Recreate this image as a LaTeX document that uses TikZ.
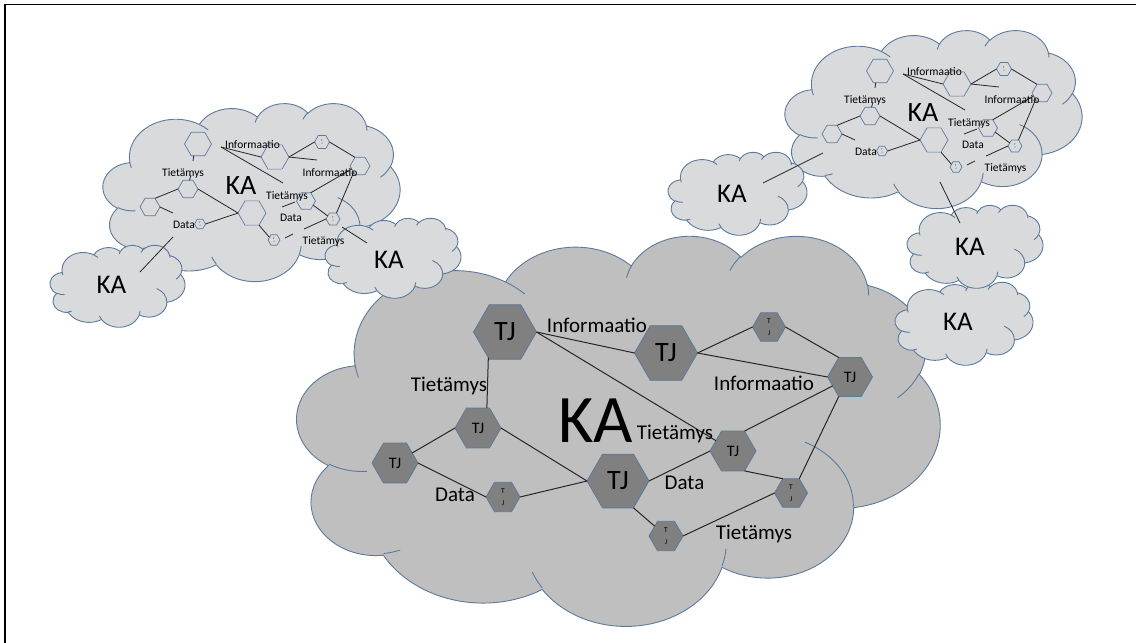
\documentclass[tikz,border=0pt]{standalone}
\usepackage{fontspec}
\setmainfont{Carlito}
\usetikzlibrary{shapes.geometric}

\definecolor{cloudedge}{RGB}{92,122,156}
\definecolor{cloudlight}{RGB}{217,218,220}
\definecolor{clouddark}{RGB}{191,191,191}
\definecolor{hexdark}{RGB}{128,128,128}
\definecolor{linkcol}{RGB}{38,38,38}

\tikzset{
  % one arc of the cloud outline: radii, start angle and sweep as seen on screen
  oa/.style n args={4}{start angle={vpar(#1,#2,#3)}, delta angle={vdelta(#1,#2,#3,#4)}, x radius=#1, y radius=#2},
  cloudbody/.style={draw=cloudedge, line width=0.9pt, line join=round},
  cloudcrease/.style={draw=cloudedge, line width=0.9pt},
  hexnode/.style={regular polygon, regular polygon sides=6, draw=cloudedge, line width=0.8pt,
    inner sep=0pt, outer sep=0pt, minimum size=#1},
  bighex/.style={hexnode=63, fill=hexdark, font=\fontsize{28}{30}\selectfont},
  midhex/.style={hexnode=46, fill=hexdark, font=\fontsize{16}{18}\selectfont},
  smallhex/.style={hexnode=33, fill=hexdark, align=center, font=\fontsize{7.5}{11.5}\selectfont},
  minihex/.style={hexnode=#1, fill=cloudlight, line width=0.7pt, align=center, font=\fontsize{2.6}{3.6}\selectfont},
  link/.style={draw=linkcol, line width=1pt},
  minilink/.style={draw=linkcol, line width=0.8pt},
  lbl/.style={anchor=base, inner sep=0pt, font=\fontsize{21}{25}\selectfont},
  minilbl/.style={anchor=base, inner sep=0pt, font=\fontsize{11.5}{13}\selectfont},
  kalbl/.style={anchor=base, inner sep=0pt, font=\fontsize{27}{30}\selectfont},
}

% cloud outline in a 43.2 x 43.2 box, placed at (#1,#2) with size #3 x #4
\newcommand\drawcloud[5]{%
  \pgfmathsetmacro\cldx{#3/43.2}%
  \pgfmathsetmacro\cldy{#4/43.2}%
  \begin{scope}[shift={(#1,#2)}, x=\cldx pt, y=-\cldy pt]
    \path[cloudbody, fill=#5] (3.900,14.370)
      arc[oa={6.753}{9.190}{-190.4875}{123.7805}]
      arc[oa={5.333}{7.267}{-144.1024}{89.9452}]
      arc[oa={4.365}{5.945}{-145.8079}{99.7230}]
      arc[oa={4.857}{6.595}{-130.9861}{117.2417}]
      arc[oa={5.333}{7.273}{-78.7089}{109.0269}]
      arc[oa={6.775}{9.220}{-46.2673}{130.2690}]
      arc[oa={5.785}{7.867}{0.6250}{114.0333}]
      arc[oa={6.752}{9.215}{22.4516}{115.1726}]
      arc[oa={7.720}{10.543}{66.2426}{75.7110}]
      arc[oa={4.360}{5.918}{-274.9421}{146.7356}]
      arc[oa={4.345}{5.945}{-246.8285}{152.5189}]
      -- cycle;
    \path[cloudcrease]
      (4.693,26.177) arc[oa={4.345}{5.945}{86.742}{26.4295}]
      (6.928,34.899) arc[oa={4.360}{5.918}{73.6105}{11.4475}]
      (16.478,39.090) arc[oa={6.752}{9.215}{137.6242}{14.0811}]
      (28.827,34.751) arc[oa={6.752}{9.215}{6.4533}{15.9984}]
      (34.129,22.954) arc[oa={5.785}{7.867}{-70.2924}{70.9174}]
      (41.798,15.354) arc[oa={5.333}{7.273}{30.318}{27.7515}]
      (38.324,5.426) arc[oa={4.857}{6.595}{-13.7443}{14.8589}]
      (29.078,3.952) arc[oa={4.857}{6.595}{-149.1815}{18.1954}]
      (22.141,4.720) arc[oa={4.365}{5.945}{-163.4943}{17.6864}]
      (14.000,5.192) arc[oa={6.753}{9.190}{-66.707}{12.3194}]
      (4.127,15.789) arc[oa={6.753}{9.190}{157.6544}{11.8582}];
  \end{scope}}

% small copy of the knowledge network, shifted by (#1,#2), node names prefixed by #3
\newcommand\mininet[3]{%
  \begin{scope}[shift={(#1,#2)}]
    \node[minihex=27] (#3A) at (198,144) {};
    \node[minihex=28] (#3C) at (275,157) {};
    \node[minihex=15] (#3D) at (322,142) {T\\J};
    \node[minihex=20] (#3E) at (360,166) {};
    \node[minihex=19] (#3F) at (306,201) {};
    \node[minihex=14] (#3G) at (333,219) {T\\J};
    \node[minihex=28] (#3H) at (252,213) {};
    \node[minihex=20] (#3B) at (188,189) {};
    \node[minihex=20] (#3I) at (150,207) {};
    \node[minihex=11] (#3J) at (200,224) {T\\J};
    \node[minihex=12] (#3K) at (274,240) {T\\J};
    \coordinate (#3a0) at (221,147);
    \coordinate (#3a1) at (283,183);
    \coordinate (#3c1) at (317,160);
    \coordinate (#3h1) at (282,207);
    \coordinate (#3h2) at (295,202);
    \coordinate (#3g1) at (304,229);
    \coordinate (#3k1) at (285,238);
    \coordinate (#3k2) at (293,234);
    \coordinate (#3i1) at (173,213);
    \coordinate (#3b1) at (193,161);
    \coordinate (#3b2) at (191,175);
    \draw[minilink] (#3a0) -- (#3a1);
    \draw[minilink] (#3a0) -- (#3C.west);
    \draw[minilink] (#3C.east) -- (#3c1);
    \draw[minilink] (#3C.east) -- (#3D.west);
    \draw[minilink] (#3D.east) -- (#3E.120);
    \draw[minilink] (#3E.225) -- (#3G.60);
    \draw[minilink] (#3F.60) -- (#3E.200);
    \draw[minilink] (#3F.-30) -- (#3G.150);
    \draw[minilink] (#3h1) -- (#3h2);
    \draw[minilink] (#3g1) -- (#3G.west);
    \draw[minilink] (#3k1) -- (#3k2);
    \draw[minilink] (#3H.-60) -- (#3K.150);
    \draw[minilink] (#3J.east) -- (#3H.west);
    \draw[minilink] (#3B.east) -- (#3H.west);
    \draw[minilink] (#3I.60) -- (#3B.west);
    \draw[minilink] (#3I.east) -- (#3i1);
    \draw[minilink] (#3A.250) -- (#3b1);
    \draw[minilink] (#3b2) -- (#3B.80);
    \node[minilbl] (#3L1) at (252.5,148) {Informaatio};
    \node[minilbl] (#3L2) at (330,176) {Informaatio};
    \node[minilbl] (#3L3) at (183,176) {Tietämys};
    \node[minilbl, font=\fontsize{28}{30}\selectfont] (#3KA) at (241,194) {KA};
    \node[minilbl] (#3L4) at (287,199) {Tietämys};
    \node[minilbl] (#3L5) at (291,221) {Data};
    \node[minilbl] (#3L6) at (184,228) {Data};
    \node[minilbl] (#3L7) at (323.5,244) {Tietämys};
  \end{scope}}

\begin{document}
\begin{tikzpicture}[x=1pt, y=-1pt,
  declare function={
    vpar(\rwid,\rhgt,\rang)=atan2(\rwid*sin(\rang),\rhgt*cos(\rang));
    vdelta(\rwid,\rhgt,\sang,\dang)=mod(vpar(\rwid,\rhgt,\sang+\dang)-vpar(\rwid,\rhgt,\sang)+720,360);
  }]
  \useasboundingbox (0,0) rectangle (1136,643);

  % page frame
  \draw[line width=1.8pt] (5,4.5) rectangle (1160,670);

  % clouds, back to front
  \drawcloud{297}{235}{643}{390}{clouddark}
  \drawcloud{103}{103}{297}{178}{cloudlight}
  \drawcloud{785}{30}{297}{178}{cloudlight}
  \drawcloud{50}{245}{135}{82}{cloudlight}
  \drawcloud{325}{218}{136}{80}{cloudlight}
  \drawcloud{668}{152}{139}{83}{cloudlight}
  \drawcloud{895}{282}{138}{83}{cloudlight}
  \drawcloud{907}{205}{136}{83}{cloudlight}

  % labels of the small clouds
  \node[kalbl] (ka1) at (111.5,293) {KA};
  \node[kalbl] (ka2) at (389,268) {KA};
  \node[kalbl] (ka3) at (732,202) {KA};
  \node[kalbl] (ka4) at (970,255) {KA};
  \node[kalbl] (ka5) at (958,330) {KA};

  % the two small network copies
  \mininet{0}{0}{tl}
  \mininet{682}{-73}{tr}

  % links between clouds
  \coordinate (tlo1) at (173,237);
  \coordinate (blin) at (140,272);
  \coordinate (tlo2) at (342,227);
  \coordinate (r1in) at (367,243);
  \coordinate (tro1) at (823,153);
  \coordinate (l2in) at (763,183);
  \coordinate (tro2) at (940,182);
  \coordinate (mdin) at (960,223);
  \draw[minilink] (tlo1) -- (blin);
  \draw[minilink] (tlo2) -- (r1in);
  \draw[minilink] (tro1) -- (l2in);
  \draw[minilink] (tro2) -- (mdin);

  % main network
  \node[bighex] (tj1) at (505,332) {TJ};
  \node[bighex] (tj2) at (666,353) {TJ};
  \node[smallhex] (s4) at (769,327) {T\\J};
  \node[midhex, minimum size=45] (tj3) at (850,377) {TJ};
  \node[midhex] (tj4) at (733,451) {TJ};
  \node[bighex, minimum size=62] (tj5) at (618,481) {TJ};
  \node[smallhex] (s3) at (791,493) {T\\J};
  \node[smallhex, minimum size=34] (s2) at (666,536) {T\\J};
  \node[midhex] (tj6) at (478,428) {TJ};
  \node[midhex] (tj7) at (395,463) {TJ};
  \node[smallhex, minimum size=34] (s1) at (503,497) {T\\J};

  \draw[link] (tj1.east) -- (tj2.west);
  \draw[link] (tj1.east) -- (tj4);
  \draw[link] (tj1.237) -- (tj6.66);
  \draw[link] (tj6.west) -- (tj7);
  \draw[link] (tj6.east) -- (tj5.west);
  \draw[link] (tj7.east) -- (s1.west);
  \draw[link] (s1.east) -- (tj5.west);
  \draw[link] (tj5.east) -- (tj4.west);
  \draw[link] (tj5.-60) -- (s2);
  \draw[link] (s2.east) -- (s3.west);
  \draw[link] (tj4.-60) -- (s3.120);
  \draw[link] (tj4.60) -- (tj3);
  \draw[link] (tj3.240) -- (s3.60);
  \draw[link] (tj2.east) -- (s4.west);
  \draw[link] (s4.east) -- (tj3.120);
  \draw[link] (tj2.east) -- (tj3.west);

  \node[lbl] (inf1) at (597,332) {Informaatio};
  \node[lbl] (inf2) at (764,390) {Informaatio};
  \node[lbl] (tie1) at (449,391) {Tietämys};
  \node[lbl] (tie2) at (675,439) {Tietämys};
  \node[lbl] (tie3) at (754,539) {Tietämys};
  \node[lbl] (dat1) at (684.5,489) {Data};
  \node[lbl] (dat2) at (455,501) {Data};
  \node[anchor=base, inner sep=0pt, font=\fontsize{68}{70}\selectfont] (kamain) at (595.5,442) {KA};
\end{tikzpicture}
\end{document}
